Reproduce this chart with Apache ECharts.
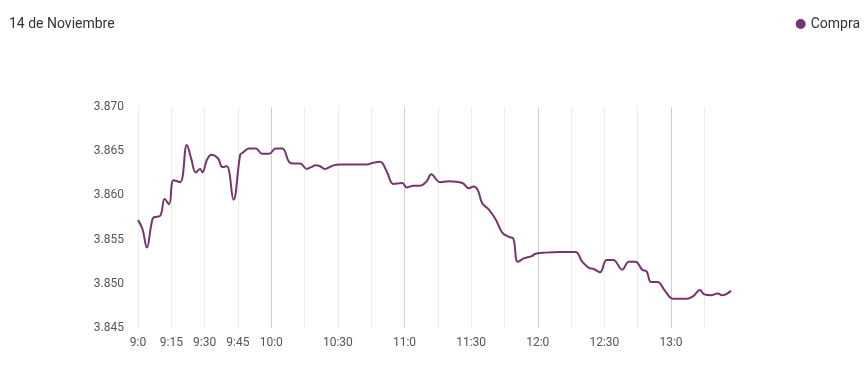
<!DOCTYPE html>
<html>
<head>
<meta charset="utf-8">
<script src="https://cdn.jsdelivr.net/npm/echarts@6/dist/echarts.min.js"></script>
<style>
html,body{margin:0;padding:0;background:#fff;}
#chart{width:868px;height:377px;}
</style>
</head>
<body>
<div id="chart"></div>
<script>
// Sampled minutes after 9:00 and the "Compra" value read at each
var sampleMinutes = [0,2,4,6,7,10,12,14,16,19,22,24,26,28,29,31,33,36,38,40,43,46,47,50,53,56,59,62,65,68,70,73,76,78,80,82,84,88,91,103,106,109,112,115,119,121,124,127,130,132,136,140,146,149,151,153,155,158,161,164,167,169,171,174,177,179,182,190,197,200,203,205,208,211,214,218,221,224,227,229,231,234,237,241,247,250,253,255,258,261,263,267];
var compra = [3.8572,3.8562,3.8541,3.8567,3.8575,3.8577,3.8596,3.8590,3.8617,3.8615,3.8657,3.8641,3.8626,3.8630,3.8626,3.8640,3.8646,3.8642,3.8632,3.8633,3.8595,3.8646,3.8648,3.8653,3.8653,3.8647,3.8647,3.8653,3.8653,3.8638,3.8636,3.8636,3.8630,3.8632,3.8634,3.8633,3.8630,3.8634,3.8635,3.8635,3.8637,3.8638,3.8627,3.8613,3.8614,3.8609,3.8611,3.8611,3.8616,3.8624,3.8615,3.8616,3.8614,3.8608,3.8610,3.8606,3.8591,3.8584,3.8573,3.8558,3.8553,3.8551,3.8525,3.8529,3.8531,3.8534,3.8535,3.8536,3.8536,3.8525,3.8518,3.8517,3.8513,3.8527,3.8527,3.8516,3.8525,3.8525,3.8516,3.8514,3.8502,3.8502,3.8493,3.8483,3.8483,3.8486,3.8493,3.8488,3.8487,3.8489,3.8487,3.8492];
var startHour = 9;
var totalMinutes = 268;
var yTicks = {min: 3.845, max: 3.870, interval: 0.005};
var seriesName = 'Compra';
var titleText = '14 de Noviembre';

// Build minute categories ("9:0", "9:1", ...) and place samples on them
var categories = [];
var values = [];
for (var i = 0; i < totalMinutes; i++) {
  categories.push((startHour + Math.floor(i / 60)) + ':' + (i % 60));
  values.push(null);
}
for (var j = 0; j < sampleMinutes.length; j++) {
  values[sampleMinutes[j]] = compra[j];
}
var splitColors = [];
for (var k = 0; k < totalMinutes; k += 15) {
  splitColors.push(k > 0 && k % 60 === 0 ? '#cfcfcf' : '#ececec');
}

var chart = echarts.init(document.getElementById('chart'), null, {renderer: 'canvas'});
var lineColor = '#76356f';
chart.setOption({
  animation: false,
  textStyle: {fontFamily: 'Roboto'},
  title: {
    text: titleText, left: 9, top: 17, padding: 0,
    textStyle: {fontSize: 14, fontWeight: 'normal', color: '#333', fontFamily: 'Roboto'}
  },
  legend: {
    right: 8, top: 17, padding: 0,
    icon: 'circle', itemWidth: 10, itemHeight: 10, itemGap: 10,
    textStyle: {fontSize: 14, color: '#333', fontFamily: 'Roboto'},
    data: [seriesName]
  },
  grid: {left: 138, right: 137, top: 107, bottom: 49, containLabel: false},
  xAxis: {
    type: 'category',
    data: categories,
    boundaryGap: false,
    axisLine: {show: false},
    axisTick: {show: false},
    axisLabel: {
      color: '#555', fontSize: 12, margin: 9, fontFamily: 'Roboto',
      interval: function (idx) { return idx % 15 === 0 && (idx <= 60 || idx % 30 === 0); }
    },
    splitLine: {
      show: true,
      interval: function (idx) { return idx % 15 === 0; },
      lineStyle: {color: splitColors, width: 1}
    }
  },
  yAxis: {
    type: 'value',
    min: yTicks.min, max: yTicks.max, interval: yTicks.interval,
    axisLine: {show: false},
    axisTick: {show: false},
    splitLine: {show: false},
    axisLabel: {
      color: '#555', fontSize: 12, margin: 14, fontFamily: 'Roboto',
      formatter: function (v) { return v.toFixed(3); }
    }
  },
  series: [{
    name: seriesName,
    type: 'line',
    data: values,
    connectNulls: true,
    smooth: 0.4,
    showSymbol: false,
    symbol: 'circle',
    itemStyle: {color: lineColor},
    lineStyle: {color: lineColor, width: 2}
  }]
});
</script>
</body>
</html>
